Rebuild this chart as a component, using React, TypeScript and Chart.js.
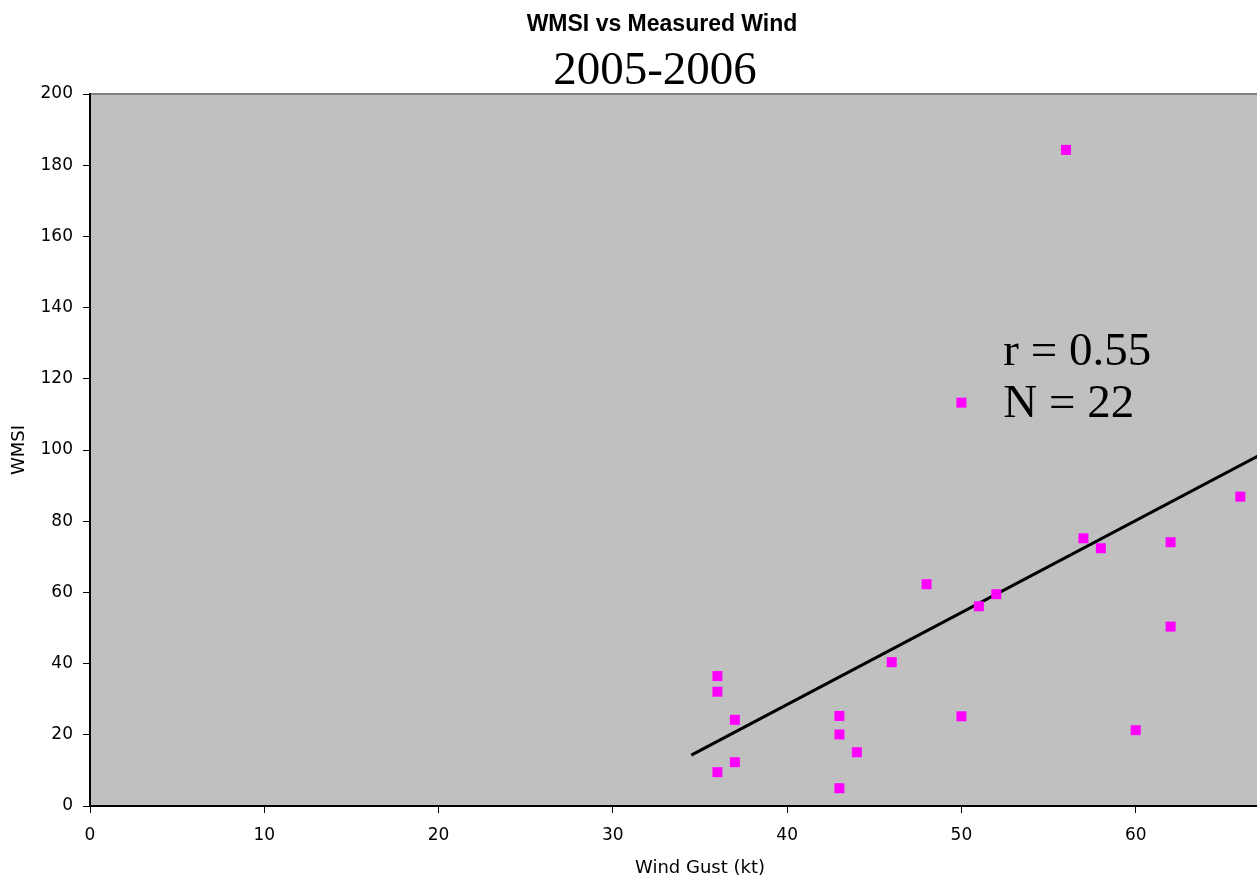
import React, { useEffect, useRef } from 'react';
import { Chart, registerables } from 'chart.js';

Chart.register(...registerables);

// ---- data ----
const windGust = [36, 36, 36, 37, 37, 43, 43, 43, 44, 46, 48, 50, 50, 51, 52, 56, 57, 58, 60, 62, 62, 66];
const wmsi = [36.5, 32.1, 9.5, 24.2, 12.3, 25.3, 20.1, 5.0, 15.1, 40.4, 62.3, 113.3, 25.2, 56.1, 59.5, 184.3, 75.2, 72.4, 21.3, 74.1, 50.4, 86.9];
const trendX = [34.5, 70];
const trendY = [14.3, 106.0];
const xTicks = [0, 10, 20, 30, 40, 50, 60];
const yTicks = [0, 20, 40, 60, 80, 100, 120, 140, 160, 180, 200];
const chartTitle = 'WMSI vs Measured Wind';
const chartSubtitle = '2005-2006';
const xTitle = 'Wind Gust (kt)';
const yTitle = 'WMSI';
const statLines = ['r = 0.55', 'N = 22'];

const CANVAS_W = 1320;
const CANVAS_H = 884;

const framePlugin = {
  id: 'frameAndText',
  beforeDraw(chart: any) {
    const { ctx, chartArea } = chart;
    ctx.save();
    ctx.fillStyle = '#C0C0C0';
    ctx.fillRect(chartArea.left, chartArea.top, chartArea.right - chartArea.left, chartArea.bottom - chartArea.top);
    ctx.strokeStyle = '#808080';
    ctx.lineWidth = 2;
    ctx.beginPath();
    ctx.moveTo(chartArea.left, chartArea.top);
    ctx.lineTo(chartArea.right, chartArea.top);
    ctx.lineTo(chartArea.right, chartArea.bottom);
    ctx.stroke();
    ctx.restore();
  },
  afterDraw(chart: any) {
    const { ctx } = chart;
    const xs = chart.scales.x;
    const ys = chart.scales.y;
    ctx.save();
    ctx.fillStyle = '#000';
    ctx.textAlign = 'center';
    ctx.textBaseline = 'alphabetic';
    ctx.font = 'bold 23px "Liberation Sans", Arial, sans-serif';
    ctx.fillText(chartTitle, 662, 31);
    ctx.font = '47px "Liberation Serif", "Times New Roman", serif';
    ctx.fillText(chartSubtitle, 655, 84);
    // statistics annotation
    ctx.textAlign = 'left';
    ctx.font = '47px "Liberation Serif", "Times New Roman", serif';
    const sx = xs.getPixelForValue(52.4);
    const sy = ys.getPixelForValue(123.9);
    statLines.forEach((t, i) => ctx.fillText(t, sx, sy + i * 52));
    ctx.restore();
  },
};

export default function App() {
  const ref = useRef<HTMLCanvasElement>(null);
  useEffect(() => {
    if (!ref.current) return;
    const points = windGust.map((x, i) => ({ x, y: wmsi[i] }));
    const trend = trendX.map((x, i) => ({ x, y: trendY[i] }));
    const tickFont = { family: '"DejaVu Sans", Verdana, sans-serif', size: 17 };
    const titleFont = { family: '"DejaVu Sans", Verdana, sans-serif', size: 18 };
    const chart = new Chart(ref.current, {
      type: 'scatter',
      data: {
        datasets: [
          {
            label: 'WMSI',
            data: points,
            backgroundColor: '#FF00FF',
            borderColor: '#FF00FF',
            borderWidth: 0,
            pointStyle: 'rect',
            pointRadius: 7.07,
            pointHoverRadius: 7.07,
          },
          {
            label: 'Trend',
            data: trend,
            showLine: true,
            borderColor: '#000',
            borderWidth: 3,
            pointRadius: 0,
            pointHoverRadius: 0,
            fill: false,
          } as any,
        ],
      },
      options: {
        animation: false,
        responsive: false,
        devicePixelRatio: 1,
        layout: { padding: { top: 94, left: 0, right: 10, bottom: 0 } },
        plugins: {
          legend: { display: false },
          title: { display: false },
          tooltip: { enabled: false },
        },
        scales: {
          x: {
            type: 'linear',
            min: 0,
            max: 70,
            afterBuildTicks: (s: any) => {
              s.ticks = xTicks.map((v) => ({ value: v }));
            },
            afterFit: (s: any) => {
              s.height = 78;
            },
            grid: {
              display: true,
              drawOnChartArea: false,
              drawTicks: true,
              tickLength: 7,
              tickColor: '#000',
              tickWidth: 1,
            },
            border: { display: true, color: '#000', width: 2 },
            ticks: { color: '#000', font: tickFont, padding: 12, maxRotation: 0 },
            title: {
              display: true,
              text: xTitle,
              color: '#000',
              font: titleFont,
              padding: { top: 0, bottom: 5 },
            },
          },
          y: {
            type: 'linear',
            min: 0,
            max: 200,
            afterBuildTicks: (s: any) => {
              s.ticks = yTicks.map((v) => ({ value: v }));
            },
            afterFit: (s: any) => {
              s.width = 90;
            },
            grid: {
              display: true,
              drawOnChartArea: false,
              drawTicks: true,
              tickLength: 7,
              tickColor: '#000',
              tickWidth: 1,
            },
            border: { display: true, color: '#000', width: 2 },
            ticks: { color: '#000', font: tickFont, padding: 10 },
            title: {
              display: true,
              text: yTitle,
              color: '#000',
              font: titleFont,
              padding: { top: 9, bottom: 0 },
            },
          },
        },
      },
      plugins: [framePlugin],
    });
    return () => chart.destroy();
  }, []);

  return (
    <div style={{ position: 'fixed', left: 0, top: 0, width: 1257, height: 884, overflow: 'hidden', background: '#fff' }}>
      <canvas ref={ref} width={CANVAS_W} height={CANVAS_H} style={{ display: 'block', width: CANVAS_W, height: CANVAS_H }} />
    </div>
  );
}
